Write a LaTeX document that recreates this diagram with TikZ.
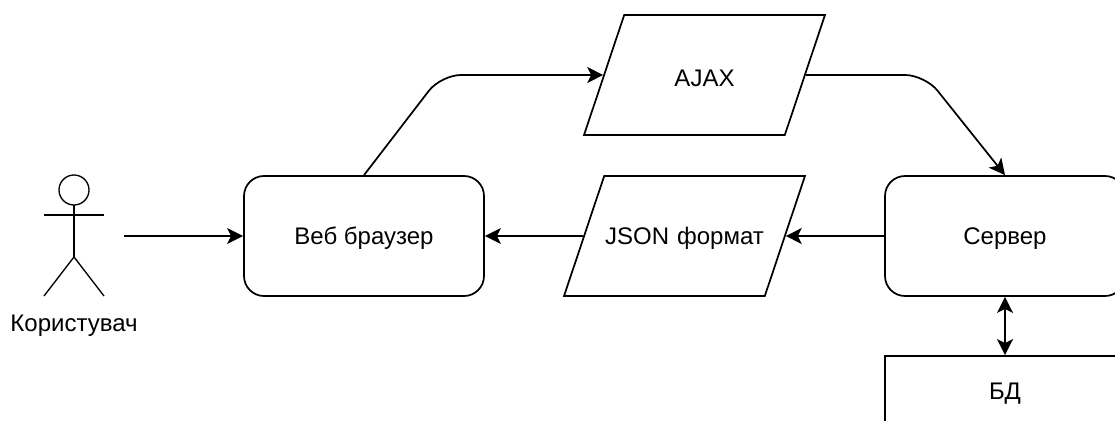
\documentclass[tikz,border=0pt]{standalone}
\usepackage{fontspec}
\setmainfont{Liberation Sans}
\usetikzlibrary{arrows.meta,shapes.geometric}
\tikzset{
	roundbox/.style={draw,rounded corners=15pt,minimum width=180pt,minimum height=90pt,inner sep=0pt,text height=12.5pt,text depth=0pt},
	slantbox/.style={draw,trapezium,trapezium left angle=71.57,trapezium right angle=108.43,trapezium stretches=true,minimum width=180.75pt,text width=120pt,align=center,text height=51.25pt,text depth=38.75pt,inner sep=0pt},
	plainbox/.style={draw,minimum width=180pt,minimum height=90pt,inner sep=0pt},
	link/.style={-{Stealth[length=12pt,width=12pt,inset=3pt]},rounded corners=15pt},
	duallink/.style={{Stealth[length=12pt,width=12pt,inset=3pt]}-{Stealth[length=12pt,width=12pt,inset=3pt]}},
	figure/.style={line width=1pt},
}
\begin{document}
\begin{tikzpicture}[x=.75pt,y=-.75pt,line width=1.3pt,font=\fontsize{18}{20}\selectfont]
	\useasboundingbox (0,0) rectangle (1115,421);
	\clip (0,0) rectangle (1115,421);
	% boxes
	\node [roundbox] (browser) at (364,236) {Веб браузер};
	\node [roundbox] (server) at (1005,236) {Сервер};
	\node [plainbox] (db) at (1005,416) {};
	\node at (1005,394) {БД};
	\node [slantbox,text height=53.5pt,text depth=36.5pt] (ajax) at (704.5,75) {AJAX};
	\node [slantbox] (json) at (684.5,236) {JSON формат};
	% actor
	\draw [figure] (74,190) circle (15);
	\coordinate (neck) at (74,205);
	\coordinate (hip) at (74,257);
	\draw [figure] (neck) -- (hip);
	\draw [figure] (44,215) -- (104,215);
	\draw [figure] (44,296) -- (hip) -- (104,296);
	\node (user) at (74,326) {Користувач};
	\coordinate (userout) at (124,236);
	\coordinate (bendleft) at (441,75);
	\coordinate (bendright) at (925,75);
	% links
	\draw [link] (userout) -- (browser.west);
	\draw [link] (browser.north) -- (bendleft) -- (ajax.west);
	\draw [link] (ajax.east) -- (bendright) -- (server.north);
	\draw [link] (server.west) -- (json.east);
	\draw [link] (json.west) -- (browser.east);
	\draw [duallink] (server.south) -- (db.north);
\end{tikzpicture}
\end{document}
